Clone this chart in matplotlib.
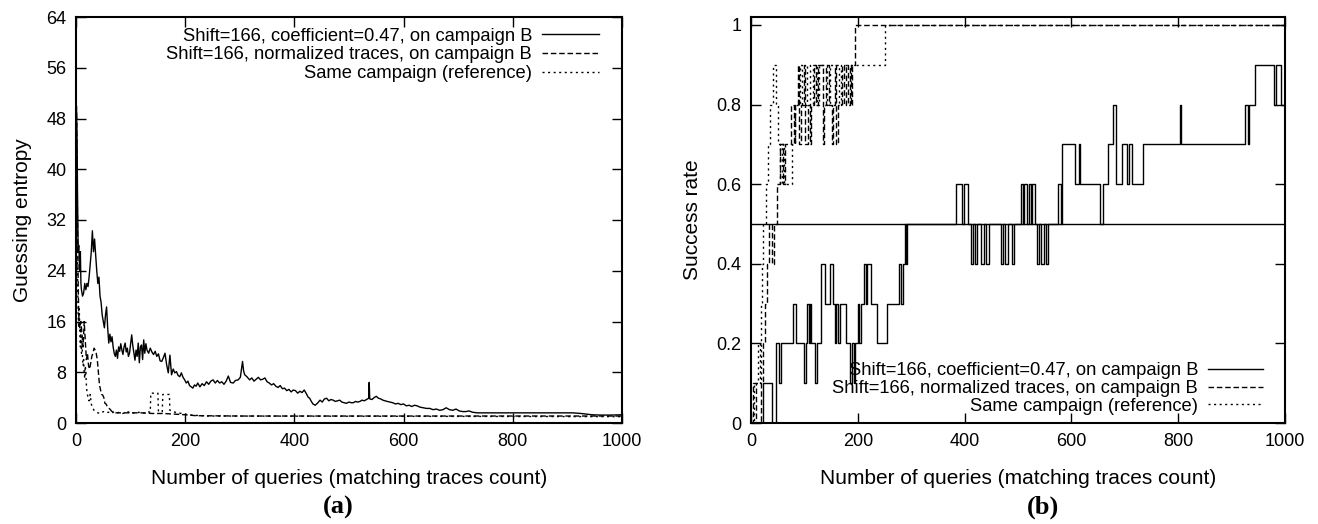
#!/usr/bin/env python
# guessing entropy / success rate, two panels

import numpy as np
import matplotlib
matplotlib.use('Agg')
import matplotlib.pyplot as plt

plt.rcParams['font.family'] = ['Liberation Sans', 'DejaVu Sans']

labels = ['Shift=166, coefficient=0.47, on campaign B',
          'Shift=166, normalized traces, on campaign B',
          'Same campaign (reference)']

# (a) guessing entropy, coefficient 0.47
ge_coef_x = [1, 2, 3, 4, 5, 6, 7, 8, 9, 10, 12, 14, 16, 18, 20, 22, 24, 26, 28, 30,
             32, 34, 36, 38, 40, 42, 44, 46, 48, 50, 52, 54, 56, 58, 60, 62, 64, 66, 68, 70,
             72, 74, 76, 78, 80, 82, 84, 86, 88, 90, 92, 94, 96, 98, 100, 102, 104, 106, 108, 110,
             112, 114, 116, 118, 120, 122, 124, 126, 128, 130, 133, 136, 139, 142, 145, 148, 151, 154, 157, 160,
             163, 166, 169, 172, 175, 178, 181, 184, 187, 190, 193, 196, 199, 202, 205, 208, 211, 214, 217, 220,
             223, 227, 231, 235, 239, 243, 247, 251, 255, 259, 263, 267, 271, 275, 279, 283, 288, 292, 297, 301,
             305, 307, 309, 313, 318, 322, 326, 330, 334, 338, 342, 346, 350, 354, 358, 362, 366, 370, 374, 378,
             382, 386, 390, 394, 398, 402, 406, 410, 414, 418, 422, 425, 428, 431, 434, 438, 442, 447, 451, 455,
             459, 463, 467, 471, 475, 479, 483, 487, 491, 495, 500, 504, 508, 512, 516, 520, 524, 528, 532, 536,
             537, 538, 542, 546, 550, 554, 558, 562, 566, 570, 575, 580, 585, 590, 595, 600, 605, 610, 615, 620,
             625, 630, 636, 642, 648, 654, 660, 666, 672, 678, 684, 690, 696, 702, 708, 714, 720, 726, 735, 750,
             770, 790, 810, 830, 850, 870, 890, 910, 925, 935, 945, 960, 980, 1000]
ge_coef_y = [49, 44, 34, 27, 28, 26, 24, 27, 22, 21, 20, 20.5, 22, 21, 22, 21.5, 23, 25, 27, 30.3,
             27, 29, 26.5, 24, 22, 23, 20, 19, 17, 16, 15, 17, 18.3, 15, 12.6, 14, 12.8, 13.6, 12, 11,
             10.5, 11.5, 10.2, 12, 11.3, 12.5, 11.5, 10.8, 12, 12.6, 11.2, 11.8, 10.5, 11, 12.5, 13.9, 12.2, 11, 9.9, 11.5,
             10.5, 12.6, 9.5, 12, 12.3, 10, 13.1, 11, 12.5, 11.5, 11, 11.8, 11.2, 10.8, 11.3, 10.5, 10.9, 9.8, 9.7, 10.3,
             11, 9.2, 7.9, 10.7, 7.6, 8.5, 7.9, 8.1, 7.5, 7.3, 7.9, 7.2, 6.8, 6.3, 6.6, 5.9, 5.7, 5.5, 6.0, 5.8,
             6.3, 5.7, 6.2, 5.9, 6.5, 6.1, 6.6, 6.8, 6.3, 6.7, 6.3, 6.5, 6.1, 6.6, 7.4, 6.4, 6.3, 6.7, 6.8, 7.2,
             9.7, 8.2, 7.6, 7.3, 6.8, 7.1, 6.6, 6.9, 7.2, 6.8, 6.9, 7.1, 6.5, 6.3, 6.0, 6.2, 5.8, 5.6, 5.9, 5.4,
             5.5, 5.1, 5.3, 4.9, 5.2, 5.1, 4.7, 5.0, 4.8, 5.2, 4.6, 4.1, 3.9, 3.4, 3.0, 2.8, 3.1, 3.6, 3.3, 3.8,
             3.9, 3.5, 3.7, 3.6, 3.4, 3.5, 3.6, 3.3, 3.2, 3.1, 3.3, 3.2, 3.2, 3.4, 3.3, 3.4, 3.6, 3.5, 3.7, 3.9,
             6.4, 3.8, 3.7, 4.0, 4.2, 3.9, 3.8, 3.6, 3.5, 3.4, 3.3, 3.2, 3.0, 3.1, 2.9, 3.0, 2.7, 2.8, 2.6, 2.8,
             2.7, 2.5, 2.4, 2.3, 2.3, 2.1, 2.2, 2.0, 2.1, 2.4, 2.1, 2.0, 2.2, 1.9, 1.8, 1.8, 1.9, 1.7, 1.6, 1.6,
             1.6, 1.6, 1.6, 1.6, 1.6, 1.6, 1.6, 1.6, 1.5, 1.4, 1.3, 1.25, 1.25, 1.3]

# (a) normalized traces
ge_norm_x = [1, 2, 3, 4, 5, 7, 9, 11, 13, 15, 17, 19, 21, 23, 25, 27, 29, 31, 33, 35,
             37, 39, 41, 43, 45, 47, 49, 51, 53, 55, 58, 62, 66, 70, 80, 100, 120, 140, 160, 180,
             200, 220, 300, 1000]
ge_norm_y = [50, 40, 30, 22, 17, 15, 16, 14, 12, 16, 13, 10, 11, 9, 8.5, 9.5, 10.5, 11, 11.8, 11.5,
             11, 10, 8, 6, 5.2, 4.5, 4.4, 4.0, 3.1, 3.0, 2.5, 2.2, 1.8, 1.6, 1.6, 1.6, 1.6, 1.5, 1.5, 1.4,
             1.3, 1.15, 1.1, 1.1]

# (a) same campaign reference
ge_ref_x = [1, 2, 3, 4, 5, 6, 7, 8, 9, 10, 11, 12, 13, 14, 15, 16, 17, 18, 19, 20,
            22, 24, 26, 28, 30, 33, 36, 40, 45, 50, 55, 60, 65, 70, 75, 80, 85, 90, 95, 100,
            105, 110, 115, 120, 125, 130, 136, 137, 150, 151, 158, 159, 171, 172, 178, 185, 195, 205, 220, 240,
            1000]
ge_ref_y = [49, 30, 22, 17, 15, 18, 14, 12, 15, 11, 13, 10, 9, 10, 8, 7, 9, 8, 6, 5,
            4, 3.5, 4.5, 3, 2.5, 2, 1.8, 1.6, 1.5, 1.8, 1.6, 1.7, 1.5, 1.8, 1.6, 1.7, 1.5, 1.6, 1.8, 1.5,
            1.6, 1.5, 1.7, 1.5, 1.6, 1.8, 1.7, 4.7, 4.7, 1.8, 1.8, 4.5, 4.5, 2.0, 1.8, 1.6, 1.5, 1.3, 1.2, 1.1,
            1.0]

# (b) success rate, coefficient 0.47
sr_coef_x = [0, 22, 40, 46, 53, 57, 78, 85, 99, 103, 105, 108, 110, 113, 119, 123, 131, 139, 148, 154,
             157, 160, 163, 166, 177, 186, 190, 192, 195, 200, 203, 206, 212, 215, 218, 224, 236, 255, 277, 281,
             284, 288, 290, 292, 383, 395, 398, 407, 412, 416, 420, 424, 430, 436, 440, 446, 468, 472, 476, 482,
             488, 492, 506, 509, 512, 516, 520, 524, 527, 532, 535, 539, 543, 548, 552, 556, 574, 580, 582, 607,
             614, 616, 654, 660, 669, 678, 684, 695, 704, 707, 713, 735, 804, 806, 926, 930, 933, 943, 980, 983,
             993, 1000]
sr_coef_y = [0.0, 0.1, 0.0, 0.2, 0.1, 0.2, 0.3, 0.2, 0.1, 0.2, 0.3, 0.2, 0.3, 0.2, 0.1, 0.2, 0.4, 0.3, 0.4, 0.3,
             0.2, 0.3, 0.2, 0.3, 0.2, 0.1, 0.2, 0.1, 0.2, 0.3, 0.2, 0.3, 0.4, 0.3, 0.4, 0.3, 0.2, 0.3, 0.4, 0.3,
             0.4, 0.5, 0.4, 0.5, 0.6, 0.5, 0.6, 0.5, 0.4, 0.5, 0.4, 0.5, 0.4, 0.5, 0.4, 0.5, 0.4, 0.5, 0.4, 0.5,
             0.4, 0.5, 0.6, 0.5, 0.6, 0.5, 0.6, 0.5, 0.6, 0.5, 0.4, 0.5, 0.4, 0.5, 0.4, 0.5, 0.6, 0.5, 0.7, 0.6,
             0.7, 0.6, 0.5, 0.6, 0.7, 0.8, 0.6, 0.7, 0.6, 0.7, 0.6, 0.7, 0.8, 0.7, 0.8, 0.7, 0.8, 0.9, 0.8, 0.9,
             0.8, 0.8]

# (b) normalized traces
sr_norm_x = [0, 3, 10, 18, 22, 26, 30, 34, 40, 44, 48, 55, 60, 64, 74, 80, 83, 88, 90, 94,
             100, 102, 106, 110, 112, 118, 122, 126, 134, 136, 140, 146, 152, 154, 158, 160, 163, 170, 174, 178,
             182, 186, 188, 190, 195, 1000]
sr_norm_y = [0.0, 0.1, 0.0, 0.1, 0.2, 0.3, 0.4, 0.5, 0.4, 0.5, 0.6, 0.7, 0.6, 0.7, 0.8, 0.7, 0.8, 0.9, 0.7, 0.8,
             0.9, 0.7, 0.8, 0.7, 0.8, 0.9, 0.8, 0.9, 0.7, 0.8, 0.9, 0.8, 0.7, 0.8, 0.9, 0.7, 0.8, 0.9, 0.8, 0.9,
             0.8, 0.9, 0.8, 0.9, 1.0, 1.0]

# (b) same campaign reference
sr_ref_x = [0, 6, 14, 17, 19, 21, 23, 28, 32, 36, 42, 46, 50, 54, 58, 62, 76, 82, 92, 96,
            104, 110, 116, 124, 128, 142, 148, 164, 168, 250, 1000]
sr_ref_y = [0.0, 0.1, 0.2, 0.1, 0.3, 0.4, 0.5, 0.6, 0.7, 0.8, 0.9, 0.8, 0.7, 0.6, 0.7, 0.6, 0.7, 0.8, 0.9, 0.8,
            0.9, 0.8, 0.9, 0.8, 0.9, 0.8, 0.9, 0.8, 0.9, 1.0, 1.0]

x_ticks = [0, 200, 400, 600, 800, 1000]
ge_ticks = [0, 8, 16, 24, 32, 40, 48, 56, 64]
sr_ticks = [0, 0.2, 0.4, 0.6, 0.8, 1]
sr_ticklabels = ['0', '0.2', '0.4', '0.6', '0.8', '1']

dash = (0, (4, 2))
dot = (0, (1.5, 2.5))

fig = plt.figure(figsize=(13.18, 5.24), dpi=100)
ax1 = fig.add_axes([76/1318, 101/524, 546/1318, 406/524])
ax2 = fig.add_axes([751/1318, 101/524, 534/1318, 406/524])


def style(ax):
	for s in ax.spines.values():
		s.set_linewidth(1.5)
	ax.tick_params(direction='in', top=True, right=True, length=7, width=1,
				   labelsize=13, pad=7)
	ax.set_xlim(0, 1000)
	ax.set_xticks(x_ticks)
	ax.set_xlabel('Number of queries (matching traces count)', fontsize=15, labelpad=14)


# (a)
ax1.plot(ge_coef_x, ge_coef_y, color='black', lw=1, label=labels[0])
ax1.plot(ge_norm_x, ge_norm_y, color='black', lw=1, ls=dash, label=labels[1])
ax1.plot(ge_ref_x, ge_ref_y, color='black', lw=1, ls=dot, label=labels[2])
ax1.set_ylim(0, 64)
ax1.set_yticks(ge_ticks)
ax1.set_ylabel('Guessing entropy', fontsize=15, labelpad=10)
style(ax1)
ax1.legend(loc='upper right', bbox_to_anchor=(0.958, 0.974), frameon=False, markerfirst=False,
		   fontsize=13.2, handlelength=3.1, handletextpad=0.55, labelspacing=0.1,
		   borderaxespad=0, borderpad=0)

# (b)
ax2.axhline(0.5, color='black', lw=1)
ax2.plot(sr_coef_x, sr_coef_y, color='black', lw=1, drawstyle='steps-post', label=labels[0])
ax2.plot(sr_norm_x, sr_norm_y, color='black', lw=1, ls=dash, drawstyle='steps-post', label=labels[1])
ax2.plot(sr_ref_x, sr_ref_y, color='black', lw=1, ls=dot, drawstyle='steps-post', label=labels[2])
ax2.set_ylim(0, 1.02)
ax2.set_yticks(sr_ticks)
ax2.set_yticklabels(sr_ticklabels)
ax2.set_ylabel('Success rate', fontsize=15, labelpad=10)
style(ax2)
ax2.legend(loc='lower right', bbox_to_anchor=(0.959, 0.02), frameon=False, markerfirst=False,
		   fontsize=13.2, handlelength=3.0, handletextpad=0.55, labelspacing=0.05,
		   borderaxespad=0, borderpad=0)

fig.text(338/1318, 1 - 507/524, '(a)', ha='center', va='center', fontsize=19,
		 fontweight='bold', family='Liberation Serif')
fig.text(1043/1318, 1 - 507/524, '(b)', ha='center', va='center', fontsize=19,
		 fontweight='bold', family='Liberation Serif')

fig.savefig('out.png', dpi=100)
